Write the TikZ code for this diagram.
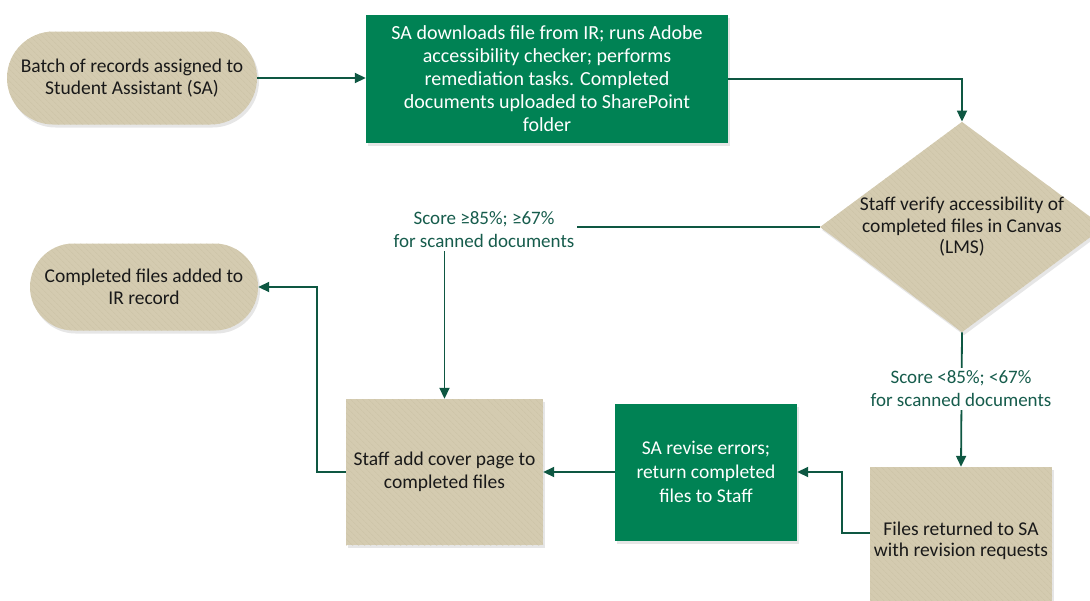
\documentclass[tikz,border=0pt]{standalone}
\usepackage{fontspec}
\setmainfont{Carlito}
\usetikzlibrary{shapes.geometric,shapes.misc,arrows.meta,shadows,patterns.meta,calc}
\definecolor{tanc}{RGB}{212,203,176}
\definecolor{tanline}{RGB}{203,194,166}
\definecolor{sagreen}{RGB}{0,130,84}
\definecolor{lineg}{RGB}{14,87,66}
\definecolor{lblc}{RGB}{22,92,76}
\definecolor{ink}{RGB}{25,25,25}
\begin{document}
\begin{tikzpicture}[x=1pt,y=-1pt,
  every node/.style={font=\fontsize{19.5}{21.5}\selectfont, align=center, inner sep=0pt},
  shade/.style={drop shadow={shadow xshift=2pt,shadow yshift=-3pt,opacity=0.2}},
  tanfill/.style={shade, fill=tanc, text=ink,
    postaction={pattern={Lines[angle=-45,distance=4pt,line width=0.6pt]},pattern color=tanline}},
  greenbox/.style={shade, rectangle, fill=sagreen, text=white},
  stadium/.style={tanfill, rounded rectangle},
  tanbox/.style={tanfill, rectangle},
  decision/.style={tanfill, diamond, aspect=1.35},
  conn/.style={draw=lineg, line width=1.8pt, -{Triangle[length=11pt,width=10pt]}},
  lab/.style={fill=white, text=lblc, inner sep=3pt, font=\fontsize{19}{23}\selectfont}]
\useasboundingbox (0,0) rectangle (1090,600);
\clip (0,0) rectangle (1090,600);

\node[stadium, minimum width=250pt, minimum height=93pt] (batch) at (132,78)
  {Batch of records assigned to\\Student Assistant (SA)};
\node[greenbox, minimum width=362pt, minimum height=128pt, font=\fontsize{20}{23}\selectfont] (dl) at (547,79)
  {SA downloads file from IR; runs Adobe\\accessibility checker; performs\\remediation tasks. Completed\\documents uploaded to SharePoint\\folder};
\node[decision, minimum width=280pt, minimum height=208pt] (verify) at (962,227)
  {Staff verify accessibility of\\completed files in Canvas\\(LMS)};
\node[stadium, minimum width=228pt, minimum height=87pt] (complete) at (144,287)
  {Completed files added to\\IR record};
\node[tanbox, minimum width=197pt, minimum height=146pt, font=\fontsize{19.5}{23}\selectfont] (staffadd) at (444.5,472)
  {Staff add cover page to\\completed files};
\node[greenbox, minimum width=182pt, minimum height=137pt, font=\fontsize{19.5}{24}\selectfont] (revise) at (706,472)
  {SA revise errors;\\return completed\\files to Staff};
\node[tanbox, minimum width=182pt, minimum height=148pt] (files) at (961,541)
  {Files returned to SA\\with revision requests};

\draw[conn] (batch.east) -- (batch.east -| dl.west);
\draw[conn] (dl.east) -| (verify.north);
\draw[conn] (verify.west) -| (staffadd.north);
\draw[conn] (verify.south) -- (files.north);
\draw[conn] ($(files.west)+(0,-8)$) -- ++(-28,0) |- (revise.east);
\draw[conn] (revise.west) -- (staffadd.east);
\draw[conn] (staffadd.west) -- ++(-29,0) |- (complete.east);

\node[lab] (pass) at (484,230) {Score ≥85\%; ≥67\%\\for scanned documents};
\node[lab] (fail) at (961,389) {Score <85\%; <67\%\\for scanned documents};
\end{tikzpicture}
\end{document}
